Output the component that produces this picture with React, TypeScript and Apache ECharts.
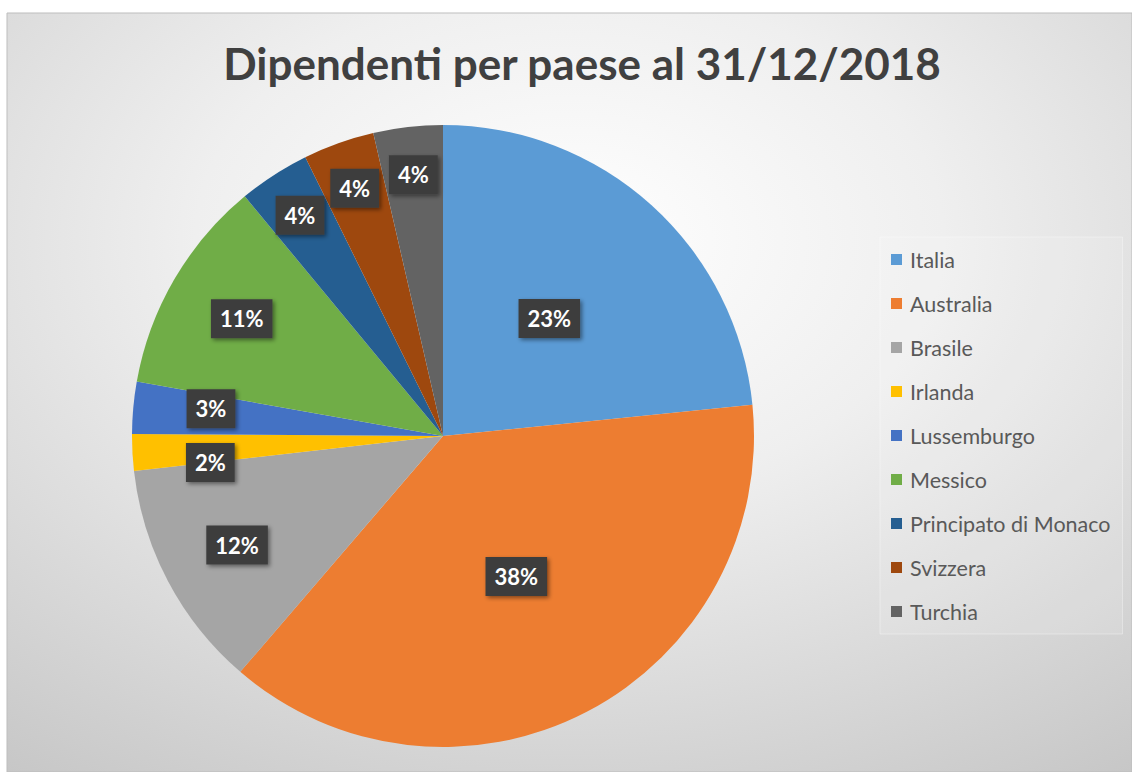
import React, { useEffect, useRef } from 'react';
import * as echarts from 'echarts';

const titleText = 'Dipendenti per paese al 31/12/2018';
const countries = [
  'Italia',
  'Australia',
  'Brasile',
  'Irlanda',
  'Lussemburgo',
  'Messico',
  'Principato di Monaco',
  'Svizzera',
  'Turchia',
];
const shares = [23.4, 37.9, 11.9, 1.9, 2.7, 11.2, 3.7, 3.7, 3.6];
const sliceColors = [
  '#5B9BD5',
  '#ED7D31',
  '#A5A5A5',
  '#FFC000',
  '#4472C4',
  '#70AD47',
  '#255E91',
  '#9E480E',
  '#636363',
];

// layout only: radius of the (invisible) ring whose "inside" label position is used
// for each slice, plus a small vertical nudge (like Excel's best-fit placement)
const MAIN_R = 311;
const labelRing = [311, 311, 460, 460, 460, 460, 520, 520, 520];
const labelNudge = [0, 0, 0, 14, -6, 0, 0, 0, 0];

export default function App() {
  const ref = useRef<HTMLDivElement>(null);

  useEffect(() => {
    if (!ref.current) return;
    const chart = echarts.init(ref.current, undefined, { renderer: 'svg' });

    const groups: { key: string; r: number; dy: number }[] = [{ key: MAIN_R + '_x', r: MAIN_R, dy: 0 }];
    labelRing.forEach((r, i) => {
      const key = r + '_' + labelNudge[i];
      if (!groups.find((g) => g.key === key)) groups.push({ key, r, dy: labelNudge[i] });
    });

    const labelStyle = {
      position: 'inside',
      formatter: (p: any) => Math.round(p.percent) + '%',
      color: '#ffffff',
      fontFamily: 'Lato',
      fontWeight: 'bold',
      fontSize: 22,
      lineHeight: 23,
      backgroundColor: '#3d3d3d',
      padding: [8, 9, 8, 9],
      shadowColor: 'rgba(0,0,0,0.45)',
      shadowBlur: 4,
      shadowOffsetX: 2,
      shadowOffsetY: 2,
    };

    const series = groups.map((g, gi) => {
      const isMain = gi === 0;
      return {
        type: 'pie',
        center: [443, 436],
        radius: g.r,
        startAngle: 90,
        clockwise: true,
        silent: !isMain,
        legendHoverLink: isMain,
        avoidLabelOverlap: false,
        z: isMain ? 2 : 3,
        label: labelStyle,
        labelLine: { show: false },
        labelLayout: { dy: g.dy },
        emphasis: { disabled: true },
        data: countries.map((n, i) => ({
          name: n,
          value: shares[i],
          itemStyle: { color: isMain ? sliceColors[i] : 'rgba(0,0,0,0)' },
          label: {
            show: isMain
              ? labelRing[i] === MAIN_R
              : labelRing[i] === g.r && labelNudge[i] === g.dy && labelRing[i] !== MAIN_R,
          },
        })),
      };
    });

    chart.setOption({
      animation: false,
      graphic: [
        {
          type: 'rect',
          z: -10,
          silent: true,
          shape: { x: 7, y: 13, width: 1125, height: 759 },
          style: {
            fill: {
              type: 'radial',
              x: 0.5,
              y: 0.3,
              r: 0.95,
              colorStops: [
                { offset: 0, color: '#ffffff' },
                { offset: 0.35, color: '#efefef' },
                { offset: 1, color: '#c0c0c0' },
              ],
            },
            stroke: '#bdbdbd',
            lineWidth: 1,
          },
        },
      ],
      title: {
        text: titleText,
        left: 577,
        top: 36,
        textAlign: 'center',
        textStyle: {
          fontFamily: 'Lato',
          fontWeight: 'bold',
          fontSize: 44,
          color: '#404040',
        },
      },
      legend: {
        orient: 'vertical',
        left: 880,
        top: 237,
        padding: [11, 12, 11, 11],
        backgroundColor: 'rgba(255,255,255,0.12)',
        borderColor: 'rgba(255,255,255,0.35)',
        borderWidth: 1,
        icon: 'rect',
        itemWidth: 11,
        itemHeight: 11,
        itemGap: 21,
        textStyle: {
          fontFamily: 'Lato',
          fontSize: 21.5,
          lineHeight: 23,
          color: '#595959',
          padding: [0, 0, 0, 3],
        },
        data: countries.map((n, i) => ({ name: n, itemStyle: { color: sliceColors[i] } })),
      },
      series,
    });

    return () => chart.dispose();
  }, []);

  return (
    <div
      ref={ref}
      style={{ position: 'fixed', left: 0, top: 0, width: 1132, height: 772, background: '#ffffff' }}
    />
  );
}
